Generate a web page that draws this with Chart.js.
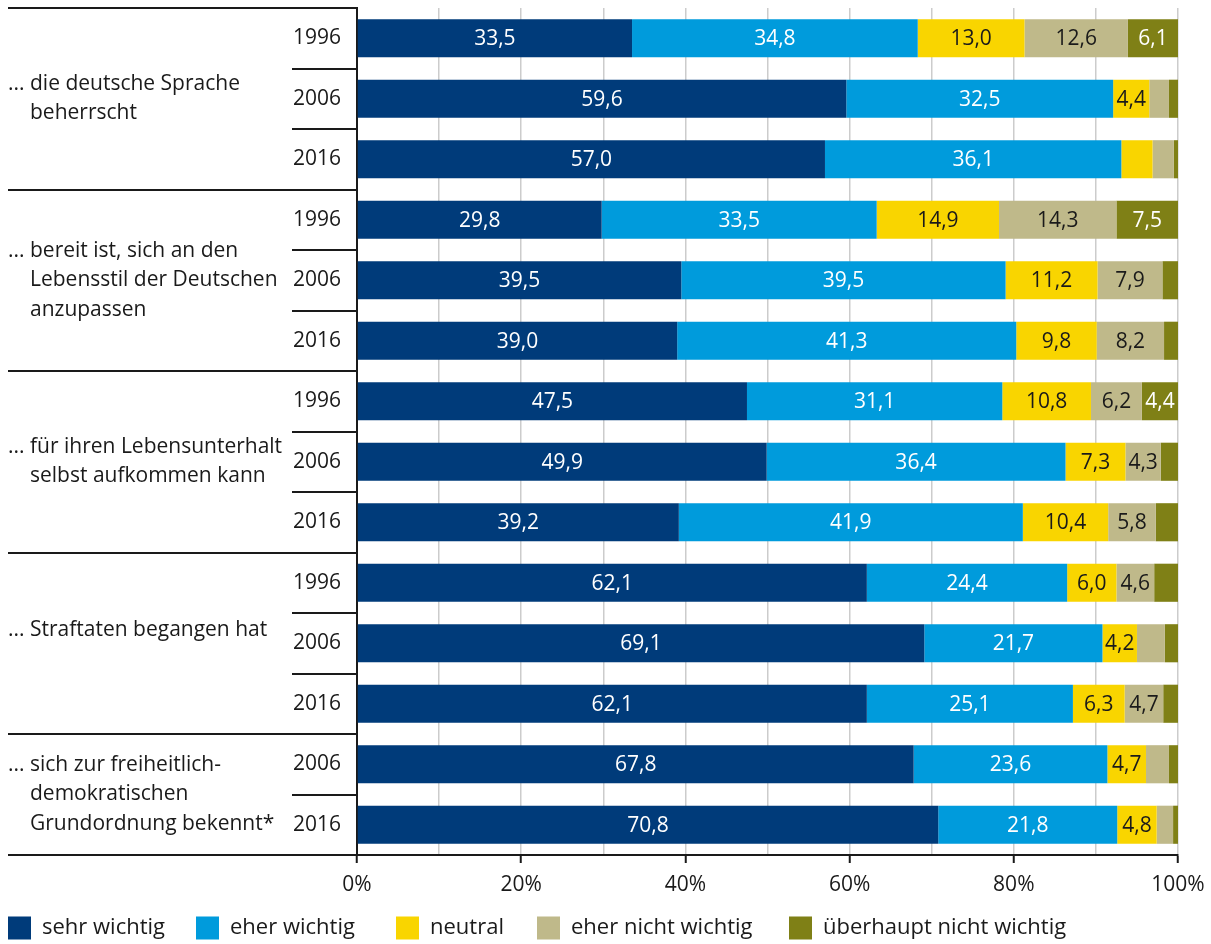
<!DOCTYPE html>
<html><head><meta charset="utf-8">
<script src="https://cdn.jsdelivr.net/npm/chart.js@4.4.1/dist/chart.umd.min.js"></script>
<style>html,body{margin:0;padding:0;background:#fff}</style>
</head><body>
<canvas id="c" width="1211" height="944" style="display:block;width:1211px;height:944px"></canvas>
<script>
const years = ['1996','2006','2016','1996','2006','2016','1996','2006','2016','1996','2006','2016','2006','2016'];
const groupLabels = [
  ['... die deutsche Sprache','beherrscht'],
  ['... bereit ist, sich an den','Lebensstil der Deutschen','anzupassen'],
  ['... für ihren Lebensunterhalt','selbst aufkommen kann'],
  ['... Straftaten begangen hat'],
  ['... sich zur freiheitlich-','demokratischen','Grundordnung bekennt*']
];
const groupSizes = [3,3,3,3,2];
const seriesNames = ['sehr wichtig','eher wichtig','neutral','eher nicht wichtig','überhaupt nicht wichtig'];
const sehrWichtig     = [33.5,59.6,57.0,29.8,39.5,39.0,47.5,49.9,39.2,62.1,69.1,62.1,67.8,70.8];
const eherWichtig     = [34.8,32.5,36.1,33.5,39.5,41.3,31.1,36.4,41.9,24.4,21.7,25.1,23.6,21.8];
const neutral         = [13.0,4.4,3.8,14.9,11.2,9.8,10.8,7.3,10.4,6.0,4.2,6.3,4.7,4.8];
const eherNicht       = [12.6,2.4,2.6,14.3,7.9,8.2,6.2,4.3,5.8,4.6,3.4,4.7,2.8,2.0];
const ueberhauptNicht = [6.1,1.1,0.5,7.5,1.9,1.7,4.4,2.1,2.7,2.9,1.6,1.8,1.1,0.6];
const xTickStep = 10;
const xLabelStep = 20;

const FONT = '"Open Sans", Lato, sans-serif';
const INK = '#1a1a1a';
const colors = ['#003b7a','#009bdc','#f9d500','#bfb98a','#7f8016'];
const labelColors = ['#ffffff','#ffffff','#1a1a1a','#1a1a1a','#ffffff'];
const seriesData = [sehrWichtig, eherWichtig, neutral, eherNicht, ueberhauptNicht];
const legendX = [8, 196, 396, 537, 789];

const fmt = v => v.toFixed(1).replace('.', ',');

const decorPlugin = {
  id: 'decor',
  afterDatasetsDraw(chart) {
    const ctx = chart.ctx;
    ctx.save();
    ctx.font = '21px ' + FONT;
    ctx.textAlign = 'center';
    ctx.textBaseline = 'middle';
    chart.data.datasets.forEach((ds, i) => {
      const meta = chart.getDatasetMeta(i);
      meta.data.forEach((bar, j) => {
        const v = ds.data[j];
        if (v < 4) return;
        const p = bar.getProps(['x','y','base'], true);
        ctx.fillStyle = labelColors[i];
        ctx.fillText(fmt(v), (p.x + p.base) / 2, p.y + 1);
      });
    });
    ctx.restore();
  },
  afterDraw(chart) {
    const ctx = chart.ctx;
    const ys = chart.scales.y;
    const ca = chart.chartArea;
    const n = years.length;
    const groupStarts = new Set();
    let acc = 0;
    groupStarts.add(0);
    groupSizes.forEach(s => { acc += s; groupStarts.add(acc); });
    ctx.save();
    ctx.strokeStyle = INK;
    ctx.lineWidth = 2;
    for (let k = 0; k <= n; k++) {
      let y;
      if (k === 0) y = ca.top;
      else if (k === n) y = ca.bottom;
      else y = (ys.getPixelForValue(k - 1) + ys.getPixelForValue(k)) / 2;
      y = Math.round(y);
      const x0 = groupStarts.has(k) ? 8 : 292;
      ctx.beginPath();
      ctx.moveTo(x0, y);
      ctx.lineTo(ca.left, y);
      ctx.stroke();
    }
    // group labels
    ctx.font = '21px ' + FONT;
    ctx.fillStyle = INK;
    ctx.textAlign = 'left';
    ctx.textBaseline = 'middle';
    const indent = ctx.measureText('... ').width;
    const lh = 29.5;
    let start = 0;
    groupSizes.forEach((s, g) => {
      const yc = (ys.getPixelForValue(start) + ys.getPixelForValue(start + s - 1)) / 2 + (g === 3 ? -13 : 0);
      const lines = groupLabels[g];
      lines.forEach((t, li) => {
        const y = yc + (li - (lines.length - 1) / 2) * lh;
        ctx.fillText(t, li === 0 ? 8 : 8 + indent, y);
      });
      start += s;
    });
    // legend
    ctx.font = '22px ' + FONT;
    const ly = 928;
    seriesNames.forEach((name, i) => {
      const x = legendX[i];
      ctx.fillStyle = colors[i];
      ctx.fillRect(x, ly - 11.5, 23, 23);
      ctx.fillStyle = INK;
      ctx.fillText(name, x + 34, ly);
    });
    ctx.restore();
  }
};

new Chart(document.getElementById('c'), {
  type: 'bar',
  data: {
    labels: years,
    datasets: seriesNames.map((name, i) => ({
      label: name,
      data: seriesData[i],
      backgroundColor: colors[i],
      borderWidth: 0,
      barPercentage: 0.63,
      categoryPercentage: 1
    }))
  },
  options: {
    indexAxis: 'y',
    responsive: false,
    animation: false,
    layout: { padding: { left: 8, top: 8, right: 33, bottom: 0 } },
    plugins: { legend: { display: false }, tooltip: { enabled: false } },
    scales: {
      x: {
        stacked: true,
        min: 0, max: 100,
        ticks: {
          stepSize: xTickStep,
          autoSkip: false,
          maxRotation: 0,
          padding: 9,
          color: INK,
          font: { family: FONT, size: 21 },
          callback: v => (v % xLabelStep === 0 ? v + '%' : '')
        },
        grid: {
          color: '#cccccc',
          lineWidth: 1.5,
          tickLength: 8,
          tickWidth: 2,
          tickColor: c => (c.tick && c.tick.value % xLabelStep === 0 ? INK : 'rgba(0,0,0,0)')
        },
        border: { display: true, color: INK, width: 2 },
        afterFit: s => { s.height = 89; s.paddingLeft = 0; s.paddingRight = 0; }
      },
      y: {
        stacked: true,
        grid: { display: false },
        border: { display: true, color: INK, width: 2 },
        ticks: { padding: 8, color: INK, font: { family: FONT, size: 21 } },
        afterFit: s => { s.width = 349; s.paddingTop = 0; s.paddingBottom = 0; }
      }
    }
  },
  plugins: [decorPlugin]
});
</script>
</body></html>
